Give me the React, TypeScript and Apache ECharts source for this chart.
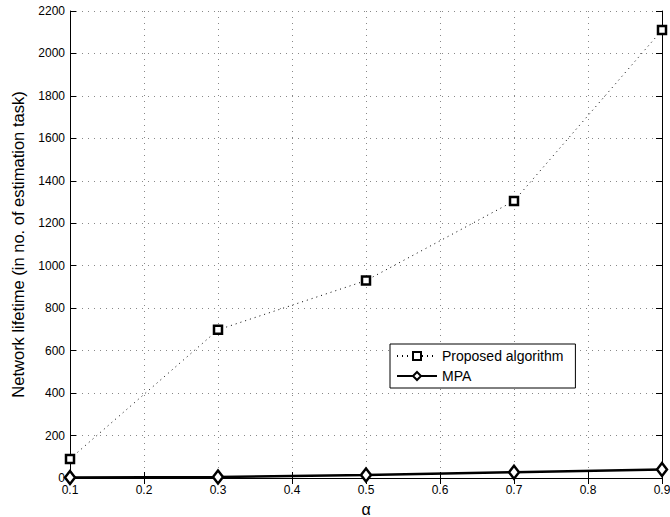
import React, { useEffect, useRef } from "react";
import * as echarts from "echarts";

const alphaValues = [0.1, 0.3, 0.5, 0.7, 0.9];
const proposedValues = [90, 698, 930, 1305, 2110];
const mpaValues = [2, 5, 14, 27, 40];
const seriesNames = ["Proposed algorithm", "MPA"];

export default function App() {
  const ref = useRef<HTMLDivElement>(null);
  useEffect(() => {
    if (!ref.current) return;
    const chart = echarts.init(ref.current, null, { renderer: "svg" });
    const font = "'Liberation Sans', Arial, sans-serif";
    const gridLine = { show: true, lineStyle: { color: "#888", type: [1, 5] as any, width: 1 } };
    const axisLine = { show: true, lineStyle: { color: "#000", width: 1 } };
    const axisTick = { show: true, inside: true, length: 6, lineStyle: { color: "#000" } };
    chart.setOption({
      animation: false,
      backgroundColor: "#fff",
      grid: { left: 70, top: 11, right: 8, bottom: 39, containLabel: false, outerBoundsMode: "none" },
      xAxis: [
        {
          type: "value",
          min: 0.1,
          max: 0.9,
          interval: 0.1,
          name: "α",
          nameLocation: "middle",
          nameGap: 23,
          nameTextStyle: { fontFamily: font, fontSize: 16, color: "#000" },
          axisLine,
          axisTick,
          splitLine: gridLine,
          axisLabel: {
            color: "#000",
            fontFamily: font,
            fontSize: 12,
            margin: 6,
            formatter: (v: number) => v.toFixed(1),
          },
        },
        {
          type: "value",
          position: "top",
          min: 0.1,
          max: 0.9,
          interval: 0.1,
          axisLine,
          axisTick,
          splitLine: { show: false },
          axisLabel: { show: false },
        },
      ],
      yAxis: [
        {
          type: "value",
          min: 0,
          max: 2200,
          interval: 200,
          name: "Network lifetime (in no. of estimation task)",
          nameLocation: "middle",
          nameGap: 44,
          nameTextStyle: { fontFamily: font, fontSize: 16.5, color: "#000" },
          axisLine,
          axisTick,
          splitLine: gridLine,
          axisLabel: {
            color: "#000",
            fontFamily: font,
            fontSize: 12,
            margin: 5,
            formatter: (v: number) => String(v),
          },
        },
        {
          type: "value",
          position: "right",
          min: 0,
          max: 2200,
          interval: 200,
          axisLine,
          axisTick,
          splitLine: { show: false },
          axisLabel: { show: false },
        },
      ],
      legend: {
        orient: "vertical",
        left: 390,
        top: 344,
        width: 194,
        itemWidth: 40,
        itemHeight: 10,
        itemGap: 6,
        padding: [5, 12, 5, 6],
        backgroundColor: "#fff",
        borderColor: "#000",
        borderWidth: 1,
        borderRadius: 0,
        textStyle: { fontFamily: font, fontSize: 14, color: "#000" },
        data: seriesNames,
      },
      series: [
        {
          name: seriesNames[0],
          type: "line",
          data: alphaValues.map((a, i) => [a, proposedValues[i]]),
          symbol: "rect",
          symbolSize: 8,
          lineStyle: { color: "#000", width: 1, type: [1, 4] as any },
          itemStyle: { color: "#fff", borderColor: "#000", borderWidth: 2.5 },
          z: 3,
        },
        {
          name: seriesNames[1],
          type: "line",
          data: alphaValues.map((a, i) => [a, mpaValues[i]]),
          symbol: "diamond",
          symbolSize: [10, 13],
          lineStyle: { color: "#000", width: 2.5 },
          itemStyle: { color: "#fff", borderColor: "#000", borderWidth: 2.5 },
          z: 4,
        },
      ],
    });
    return () => chart.dispose();
  }, []);
  return <div ref={ref} style={{ width: 670, height: 517, position: "absolute", left: 0, top: 0 }} />;
}
